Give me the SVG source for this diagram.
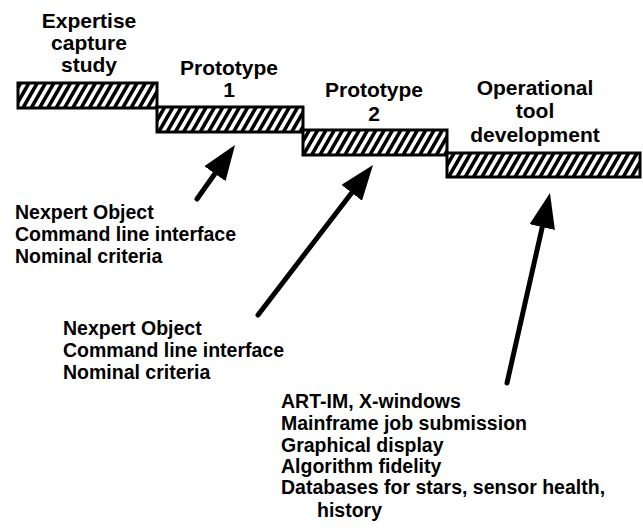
<svg xmlns="http://www.w3.org/2000/svg" width="643" height="531" viewBox="0 0 643 531">
<style>
.bg{fill:#ffffff}
.bar{fill:url(#hatch);stroke:#000;stroke-width:3}
.hdr{font-family:"Liberation Sans",Arial,sans-serif;font-weight:700;font-size:21px;fill:#000;text-anchor:middle}
.body{font-family:"Liberation Sans",Arial,sans-serif;font-weight:700;font-size:19.5px;fill:#000}
.arrow{stroke:#000;stroke-width:5;stroke-linecap:round;fill:none;marker-end:url(#head)}
</style>
<defs>
<pattern id="hatch" patternUnits="userSpaceOnUse" width="7.2" height="7.2" patternTransform="rotate(30)">
<rect x="0" y="0" width="7.2" height="7.2" fill="#fff"/>
<rect x="0" y="0" width="3.6" height="7.2" fill="#000"/>
</pattern>
<marker id="head" markerUnits="userSpaceOnUse" viewBox="0 0 35 26" markerWidth="35" markerHeight="26" refX="3" refY="13" orient="auto">
<path d="M0,0 L35,13 L0,26 z" fill="#000"/>
</marker>
</defs>
<rect class="bg" x="0" y="0" width="643" height="531"/>
<g id="phase-expertise">
<rect class="bar" x="18" y="83" width="139" height="25"/>
<text class="hdr" x="89" y="28">Expertise</text>
<text class="hdr" x="89" y="50">capture</text>
<text class="hdr" x="89" y="72">study</text>
</g>
<g id="phase-prototype1">
<rect class="bar" x="157" y="107" width="146" height="25"/>
<text class="hdr" x="229" y="75">Prototype</text>
<text class="hdr" x="229" y="97">1</text>
</g>
<g id="phase-prototype2">
<rect class="bar" x="303" y="130" width="144" height="25"/>
<text class="hdr" x="374" y="97">Prototype</text>
<text class="hdr" x="374" y="121">2</text>
</g>
<g id="phase-operational">
<rect class="bar" x="447" y="153" width="193" height="24"/>
<text class="hdr" x="535" y="95">Operational</text>
<text class="hdr" x="535" y="118">tool</text>
<text class="hdr" x="535" y="142">development</text>
</g>
<g id="note-prototype1">
<text class="body" x="15" y="219">Nexpert Object</text>
<text class="body" x="15" y="241">Command line interface</text>
<text class="body" x="15" y="263">Nominal criteria</text>
</g>
<g id="note-prototype2">
<text class="body" x="63" y="335">Nexpert Object</text>
<text class="body" x="63" y="357">Command line interface</text>
<text class="body" x="63" y="379">Nominal criteria</text>
</g>
<g id="note-operational">
<text class="body" x="281" y="408">ART-IM, X-windows</text>
<text class="body" x="281" y="430">Mainframe job submission</text>
<text class="body" x="281" y="452">Graphical display</text>
<text class="body" x="281" y="473">Algorithm fidelity</text>
<text class="body" x="281" y="494">Databases for stars, sensor health,</text>
<text class="body" x="317" y="517">history</text>
</g>
<g id="connectors">
<line class="arrow" x1="197" y1="199" x2="216.6" y2="171.2"/>
<line class="arrow" x1="258" y1="315" x2="353.5" y2="190.4"/>
<line class="arrow" x1="507" y1="383" x2="542.9" y2="224.2"/>
</g>
</svg>
